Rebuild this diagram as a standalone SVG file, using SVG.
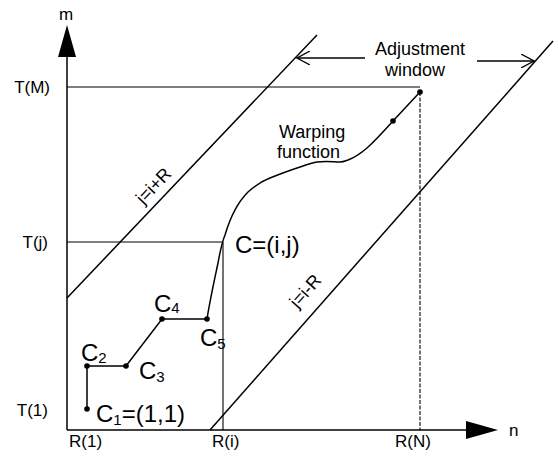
<svg xmlns="http://www.w3.org/2000/svg" width="558" height="458" viewBox="0 0 558 458">
<defs>
<style>
text{font-family:"Liberation Sans",Arial,sans-serif;fill:#000}
.t{font-size:17px}
.w{font-size:18px}
.c{font-size:24px}
.ln{stroke:#000;stroke-width:1.5;fill:none}
.th{stroke:#000;stroke-width:1.1;fill:none}
</style>
<marker id="open" markerWidth="14" markerHeight="14" refX="13" refY="7" orient="auto" markerUnits="userSpaceOnUse"><path d="M0,0 L13,7 L0,14" fill="none" stroke="#000" stroke-width="1.3"/></marker>
</defs>
<rect width="558" height="458" fill="#fff"/>
<g id="axes">
<line x1="67" y1="430" x2="67" y2="55" class="ln"/>
<path d="M67,25 L76,57 L58,57 z" fill="#000"/>
<line x1="67" y1="430" x2="468" y2="430" class="ln"/>
<path d="M498,430 L466,421 L466,439 z" fill="#000"/>
<text x="66" y="20" class="t" text-anchor="middle">m</text>
<text x="509" y="436" class="t">n</text>
</g>
<g id="ticks">
<text x="50" y="93" class="t" text-anchor="end">T(M)</text>
<text x="48" y="248" class="t" text-anchor="end">T(j)</text>
<text x="48" y="416" class="t" text-anchor="end">T(1)</text>
<text x="69" y="447" class="t">R(1)</text>
<text x="212" y="447" class="t">R(i)</text>
<text x="395" y="447" class="t">R(N)</text>
</g>
<g id="connectors">
<line x1="67" y1="87" x2="420" y2="87" class="th"/>
<line x1="420" y1="92" x2="420" y2="430" class="th" stroke-dasharray="4,1.5"/>
<line x1="67" y1="242" x2="223" y2="242" class="th"/>
<line x1="223" y1="242" x2="223" y2="430" class="th"/>
<line x1="67" y1="298" x2="317" y2="35" class="ln"/>
<line x1="210" y1="430" x2="553" y2="41" class="ln"/>
<line x1="365" y1="58" x2="297" y2="58" class="ln" marker-end="url(#open)"/>
<line x1="477" y1="61" x2="534" y2="61" class="ln" marker-end="url(#open)"/>
<polyline points="87,409 87,366 126,366 162,319 207,319" class="ln"/>
<path d="M207,319 C210,300 214,282 218,263 C220,252 222,242 225,235 C230,218 236,204 248,192 C256,185 262,181 270,178 C280,174 288,171 297,168 C304,166 310,163 317,162 C326,161 334,162 340,162 C344,162 345,161 348,160 C356,157 360,154 367,148 C376,140 384,131 393,121 L420,92" class="ln"/>
</g>
<g id="points" fill="#000">
<circle cx="87" cy="409" r="2.8"/>
<circle cx="87" cy="366" r="2.8"/>
<circle cx="126" cy="366" r="2.8"/>
<circle cx="162" cy="319" r="2.8"/>
<circle cx="207" cy="319" r="2.8"/>
<circle cx="393" cy="121" r="2.8"/>
<circle cx="420" cy="92" r="2.8"/>
</g>
<g id="labels">
<text x="96" y="422" class="c">C<tspan font-size="15" dy="3">1</tspan><tspan dy="-3">=(1,1)</tspan></text>
<text x="81" y="361" class="c">C<tspan font-size="15" dy="2">2</tspan></text>
<text x="139" y="379" class="c">C<tspan font-size="15" dy="3">3</tspan></text>
<text x="154" y="312" class="c">C<tspan font-size="15" dy="1">4</tspan></text>
<text x="200" y="346" class="c">C<tspan font-size="15" dy="3">5</tspan></text>
<text x="235" y="253" class="c">C=(i,j)</text>
<text x="279" y="138" class="w">Warping</text>
<text x="277" y="158" class="w">function</text>
<text x="420" y="55" class="w" text-anchor="middle">Adjustment</text>
<text x="415" y="76" class="w" text-anchor="middle">window</text>
<text class="w" text-anchor="middle" transform="translate(158,190) rotate(-46.5)">j=i+R</text>
<text class="w" text-anchor="middle" transform="translate(310,295) rotate(-48.6)">j=i-R</text>
</g>
</svg>
